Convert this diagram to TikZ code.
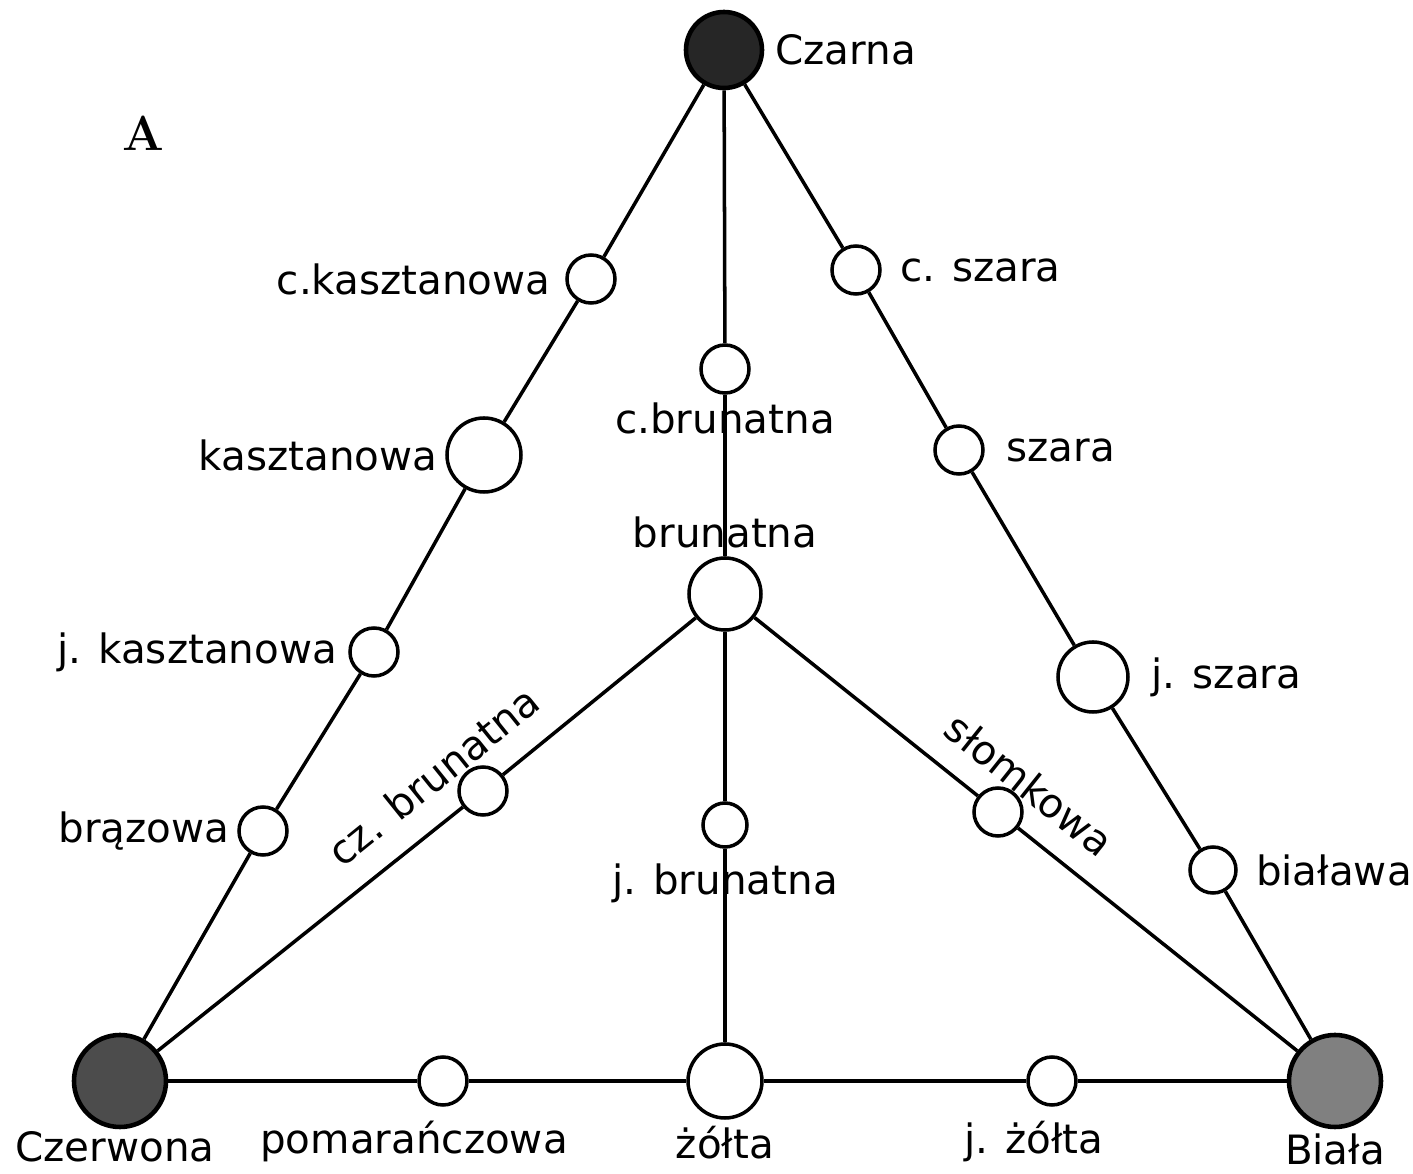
\documentclass[tikz,border=0pt]{standalone}
\usepackage{fontspec}
\newfontfamily\lblfont{DejaVu Sans}

\begin{document}
\begin{tikzpicture}
    \newcommand{\lw}{1pt} % width of the bonds and of the circle rims
    \newcommand{\baserow}{0.93} % height of the bottom row

    % set the styles of the sites and their labels
    \tikzset{
        site/.style={circle, draw, fill=white, line width=\lw, inner sep=0pt, minimum size=0.48cm},
        bigsite/.style={site, minimum size=0.74cm},
        pole/.style={circle, draw, line width=1.3pt, inner sep=0pt, minimum size=0.92cm},
        lbl/.style={font=\lblfont\fontsize{11.5}{13}\selectfont, inner sep=0pt},
        bond/.style={line width=\lw}
    }
    \useasboundingbox (0,0) rectangle (14.13,11.74);

    \node[font=\rmfamily\bfseries\fontsize{14}{16}\selectfont] (A) at (1.43,10.41) {A};

    % corners
    \node[pole, fill=black!85, minimum size=0.76cm, label={[lbl, label distance=3pt]right:Czarna}] (czarna) at (7.24,11.24) {};
    \node[pole, fill=black!70, label={[lbl, label distance=0.5pt, xshift=-0.05cm]below:Czerwona}] (czerw) at (1.20,\baserow) {};
    \node[pole, fill=black!50, label={[lbl, label distance=1pt]below:Biała}] (biala) at (13.35,\baserow) {};

    % left edge
    \node[site, label={[lbl, label distance=4pt]left:c.kasztanowa}] (ckasz) at (5.91,8.95) {};
    \node[bigsite, label={[lbl, label distance=2pt]left:kasztanowa}] (kasz) at (4.84,7.19) {};
    \node[site, label={[lbl, label distance=3pt]left:j. kasztanowa}] (jkasz) at (3.74,5.22) {};
    \node[site, label={[lbl, label distance=2pt]left:brązowa}] (braz) at (2.63,3.43) {};

    % right edge
    \node[site, label={[lbl, label distance=5pt]right:c. szara}] (cszara) at (8.56,9.04) {};
    \node[site, label={[lbl, label distance=6pt]right:szara}] (szara) at (9.59,7.24) {};
    \node[bigsite, minimum size=0.70cm, label={[lbl, label distance=6pt]right:j. szara}] (jszara) at (10.93,4.97) {};
    \node[site, minimum size=0.46cm, label={[lbl, label distance=5pt]right:biaława}] (bialawa) at (12.13,3.04) {};

    % middle column
    \node[site, label={[lbl, label distance=2pt]below:c.brunatna}] (cbrun) at (7.25,8.05) {};
    \node[bigsite, minimum size=0.72cm, label={[lbl, label distance=2pt]above:brunatna}] (brun) at (7.25,5.80) {};
    \node[site, minimum size=0.44cm, label={[lbl, label distance=4pt]below:j. brunatna}] (jbrun) at (7.25,3.49) {};
    \node[bigsite, label={[lbl, label distance=1.5pt]below:żółta}] (zolta) at (7.25,\baserow) {};

    % bottom row
    \node[site, label={[lbl, label distance=4pt, xshift=-0.29cm]below:pomarańczowa}] (pomar) at (4.43,\baserow) {};
    \node[site, label={[lbl, label distance=4pt, xshift=-0.18cm]below:j. żółta}] (jzolta) at (10.52,\baserow) {};

    % inner slopes
    \node[site] (czbrun) at (4.83,3.83) {};
    \node[site] (slom) at (9.98,3.62) {};

    % bonds
    \draw[bond] (czarna) -- (ckasz) -- (kasz) -- (jkasz) -- (braz) -- (czerw);
    \draw[bond] (czarna) -- (cszara) -- (szara) -- (jszara) -- (bialawa) -- (biala);
    \draw[bond] (czarna) -- (cbrun) -- (brun) -- (jbrun) -- (zolta);
    \draw[bond] (czerw) -- (pomar) -- (zolta) -- (jzolta) -- (biala);
    \draw[bond] (czerw) -- (czbrun) -- (brun);
    \draw[bond] (brun) -- (slom) -- (biala);

    % sloped labels
    \path (czerw) -- (brun) node[lbl, sloped, above=7pt, pos=0.56] {cz. brunatna};
    \path (brun) -- (biala) node[lbl, sloped, above=7pt, pos=0.46] {słomkowa};
\end{tikzpicture}
\end{document}
